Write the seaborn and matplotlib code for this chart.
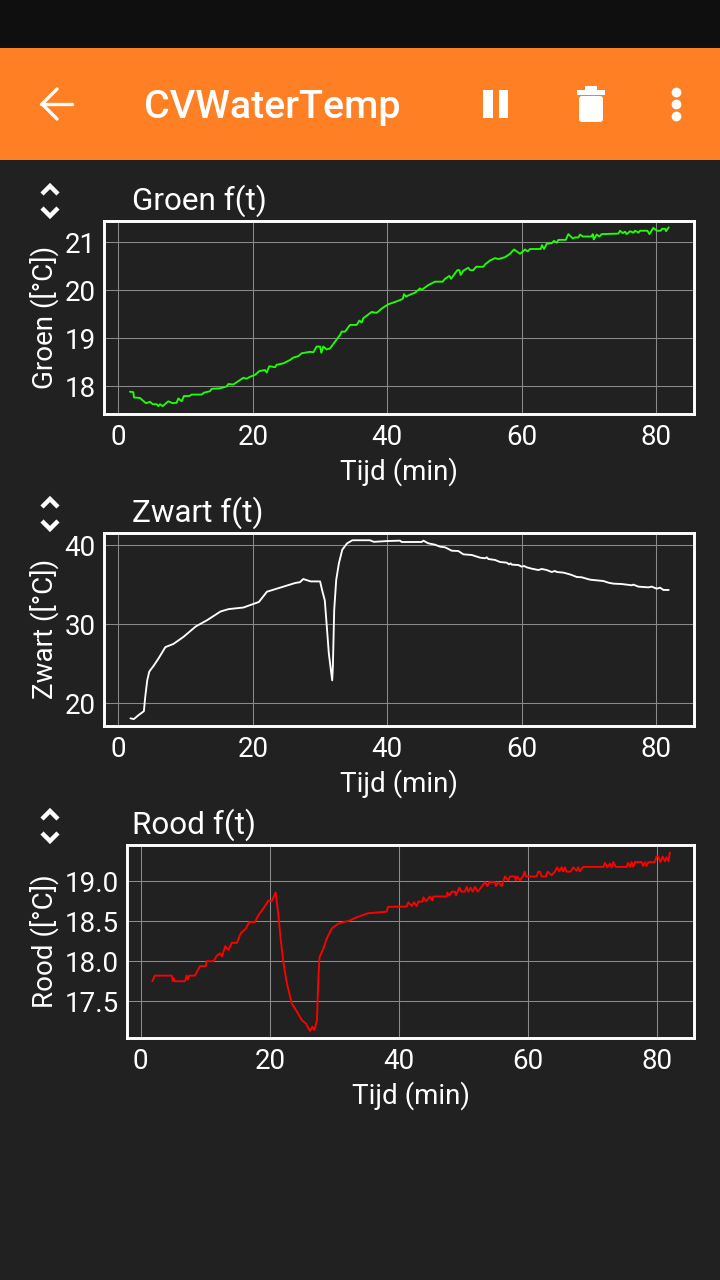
import matplotlib
matplotlib.use('Agg')
import matplotlib.pyplot as plt
import pandas as pd
import seaborn as sns
from matplotlib.lines import Line2D
from matplotlib.patches import FancyBboxPatch, Rectangle

APP_TITLE = 'CVWaterTemp'

groen_t = [1.73, 2.23, 2.33, 3.22, 4.11, 4.71, 5.11, 5.7, 5.95, 6.2, 6.59, 7.43, 8.08, 8.67, 8.92, 9.42, 9.76, 10.56, 10.9,
           12.39, 12.74, 13.63, 13.88, 15.12, 16.11, 16.36, 17.1, 17.84, 18.59, 19.08, 19.58, 20.32, 20.97, 21.81, 22.06,
           22.45, 23.3, 23.54, 24.54, 25.53, 26.02, 26.77, 27.26, 28.5, 29.0, 29.49, 29.99, 30.19, 30.48, 30.98, 31.47,
           32.22, 32.96, 33.21, 33.71, 34.45, 35.44, 35.84, 36.18, 36.43, 37.67, 38.41, 39.16, 40.15, 41.39, 42.28, 42.48,
           42.78, 43.38, 44.12, 44.86, 45.11, 46.1, 47.09, 48.23, 48.58, 49.23, 49.47, 50.42, 50.71, 50.91, 51.31, 52.05,
           52.3, 52.79, 53.19, 54.28, 54.53, 55.27, 56.02, 56.51, 57.5, 58.25, 58.84, 59.24, 59.73, 60.48, 60.87, 61.22,
           62.81, 63.0, 63.3, 63.7, 64.44, 64.79, 65.19, 65.43, 66.52, 66.92, 67.57, 67.91, 68.41, 68.66, 69.05, 70.39,
           70.54, 70.69, 71.13, 71.53, 71.88, 74.36, 74.6, 75.0, 75.35, 75.6, 76.09, 76.59, 76.83, 77.33, 77.58, 78.67,
           78.97, 79.56, 80.06, 80.65, 80.85, 81.29, 81.44, 81.84]
groen_v = [17.89, 17.88, 17.77, 17.76, 17.65, 17.68, 17.63, 17.63, 17.59, 17.63, 17.59, 17.69, 17.65, 17.66, 17.75, 17.69,
           17.8, 17.8, 17.83, 17.83, 17.87, 17.9, 17.95, 17.96, 18.0, 18.05, 18.04, 18.11, 18.18, 18.16, 18.2, 18.24, 18.32,
           18.34, 18.29, 18.42, 18.4, 18.45, 18.48, 18.55, 18.6, 18.63, 18.69, 18.72, 18.71, 18.83, 18.83, 18.7, 18.83, 18.77,
           18.79, 18.93, 19.07, 19.14, 19.14, 19.28, 19.28, 19.37, 19.33, 19.42, 19.55, 19.53, 19.62, 19.71, 19.77, 19.82,
           19.92, 19.87, 19.91, 19.95, 20.04, 20.01, 20.11, 20.18, 20.18, 20.24, 20.3, 20.24, 20.42, 20.42, 20.32, 20.41,
           20.47, 20.42, 20.42, 20.49, 20.49, 20.54, 20.62, 20.67, 20.65, 20.69, 20.76, 20.85, 20.81, 20.76, 20.85, 20.81,
           20.86, 20.86, 20.94, 20.86, 20.97, 20.98, 21.03, 20.99, 21.05, 21.05, 21.17, 21.08, 21.1, 21.1, 21.16, 21.12,
           21.12, 21.17, 21.06, 21.16, 21.12, 21.17, 21.18, 21.24, 21.19, 21.22, 21.17, 21.23, 21.2, 21.24, 21.2, 21.24,
           21.24, 21.17, 21.3, 21.24, 21.24, 21.28, 21.28, 21.23, 21.31]

zwart_t = [1.8, 2.3, 3, 3.8, 4, 4.3, 4.6, 5.3, 6, 7, 8.2, 9.7, 11.5, 13.2, 15.2, 16.4, 18.6, 20.9, 22.1, 24.4, 26.3, 27,
           27.5, 28.6, 30, 30.3, 30.7, 31, 31.3, 31.8, 31.9, 32.1, 32.4, 32.8, 33.3, 34, 34.8, 37.4, 38, 40, 41.89, 42.14,
           45.11, 45.36, 46.1, 47.09, 47.84, 48.58, 49.57, 50.56, 51.31, 52.55, 53.79, 54.53, 54.78, 55.02, 56.02, 56.76,
           57.75, 58.1, 58.35, 58.5, 59.49, 59.98, 60.33, 60.73, 61.47, 62.46, 62.96, 63.7, 64.44, 64.94, 65.19, 66.18,
           66.92, 67.42, 68.16, 68.9, 70.14, 72.13, 72.87, 73.61, 74.85, 76.34, 76.59, 77.33, 78.82, 79.31, 80.06, 80.55,
           81.05, 81.84]
zwart_v = [18.1, 18.0, 18.5, 19.0, 20.8, 22.9, 24.0, 24.8, 25.7, 27.1, 27.5, 28.4, 29.7, 30.5, 31.6, 31.9, 32.1, 32.8, 34.1,
           34.7, 35.2, 35.3, 35.7, 35.4, 35.4, 34.3, 33.0, 29.7, 26.3, 22.9, 24.6, 31.8, 35.6, 37.7, 39.4, 40.2, 40.6, 40.6,
           40.4, 40.5, 40.55, 40.38, 40.38, 40.55, 40.21, 40.04, 39.79, 39.71, 39.28, 39.24, 38.82, 38.74, 38.4, 38.32, 38.44,
           38.23, 38.11, 37.85, 37.77, 37.56, 37.68, 37.52, 37.47, 37.26, 37.35, 37.18, 37.01, 36.84, 36.97, 36.84, 36.59,
           36.72, 36.59, 36.51, 36.34, 36.21, 35.96, 35.92, 35.62, 35.45, 35.24, 35.12, 35.07, 34.91, 34.99, 34.74, 34.65,
           34.74, 34.48, 34.61, 34.32, 34.32]

rood_t = [1.8, 2.2, 4.8, 5, 5.1, 5.3, 6.9, 7.1, 7.3, 7.5, 8.4, 9.2, 10.1, 10.2, 11.3, 11.8, 12.3, 12.6, 13.1, 13.6, 14.1,
          14.9, 15.5, 16.3, 16.8, 17.7, 18.2, 19, 19.8, 20.3, 20.9, 21.3, 21.7, 22.1, 22.6, 23.4, 24.2, 25, 25.6, 26.2,
          26.6, 26.9, 27.3, 27.5, 27.7, 28.3, 28.8, 29.6, 30.6, 32.4, 33.5, 35.2, 38.1, 38.3, 40.2, 41.2, 41.46, 41.98,
          42.34, 42.75, 43.0, 43.68, 43.78, 44.2, 44.8, 45.18, 45.33, 47.39, 47.5, 47.8, 48.17, 48.68, 48.84, 49.35, 49.7,
          50.2, 50.49, 50.75, 51.1, 51.42, 51.78, 52.2, 52.8, 53.33, 53.69, 54.0, 54.87, 55.03, 55.39, 55.9, 56.42, 56.94,
          57.2, 57.97, 58.08, 58.33, 58.75, 59.26, 59.47, 59.67, 61.33, 61.58, 61.84, 62.1, 62.77, 63.03, 63.65, 64.16,
          64.52, 64.84, 65.2, 65.45, 65.71, 65.97, 66.59, 67.0, 67.52, 67.78, 68.03, 68.45, 68.65, 71.65, 71.9, 72.27,
          72.68, 72.94, 73.2, 73.6, 75.26, 75.5, 75.77, 76.03, 76.29, 76.55, 77.58, 77.84, 78.1, 78.35, 78.61, 79.64, 79.9,
          80.16, 80.52, 80.83, 81.19, 81.45, 81.76, 81.96]
rood_v = [17.75, 17.82, 17.82, 17.75, 17.79, 17.75, 17.75, 17.82, 17.77, 17.82, 17.82, 17.94, 17.94, 18.0, 18.0, 18.07, 18.1,
          18.06, 18.19, 18.14, 18.23, 18.23, 18.35, 18.41, 18.49, 18.49, 18.57, 18.66, 18.76, 18.75, 18.86, 18.6, 18.26,
          17.99, 17.74, 17.47, 17.37, 17.26, 17.22, 17.13, 17.18, 17.14, 17.26, 17.76, 18.05, 18.16, 18.28, 18.41, 18.47,
          18.51, 18.55, 18.6, 18.62, 18.68, 18.683, 18.683, 18.737, 18.69, 18.737, 18.69, 18.746, 18.746, 18.8, 18.75, 18.81,
          18.76, 18.81, 18.81, 18.86, 18.82, 18.87, 18.87, 18.825, 18.92, 18.87, 18.87, 18.93, 18.87, 18.92, 18.87, 18.93,
          18.87, 18.93, 18.99, 18.94, 18.99, 18.99, 18.94, 18.99, 18.94, 19.06, 19.01, 19.06, 19.06, 19.01, 19.06, 19.01,
          19.07, 19.12, 19.06, 19.06, 19.12, 19.12, 19.06, 19.06, 19.12, 19.075, 19.12, 19.175, 19.125, 19.175, 19.125,
          19.175, 19.12, 19.12, 19.175, 19.13, 19.175, 19.125, 19.175, 19.18, 19.18, 19.23, 19.175, 19.22, 19.175, 19.24,
          19.18, 19.18, 19.23, 19.18, 19.24, 19.18, 19.24, 19.24, 19.19, 19.24, 19.19, 19.24, 19.24, 19.31, 19.31, 19.24,
          19.31, 19.25, 19.3, 19.25, 19.36]

groen_yticks = [18, 19, 20, 21]
zwart_yticks = [20, 30, 40]
rood_yticks = [17.5, 18.0, 18.5, 19.0]
x_ticks = [0, 20, 40, 60, 80]

BG = '#212121'
W, H = 720, 1280


def add_panel(fig, box, t, v, name, color, yticks, ylim, xlim):
    left, top, right, bottom = box
    ax = fig.add_axes([left / W, 1 - bottom / H, (right - left) / W, (bottom - top) / H])
    df = pd.DataFrame({'t': t, 'v': v})
    sns.lineplot(data=df, x='t', y='v', ax=ax, color=color, lw=1.35, estimator=None, sort=False)
    ax.set_facecolor(BG)
    ax.set_xlim(*xlim)
    ax.set_ylim(*ylim)
    ax.set_xticks(x_ticks)
    ax.set_yticks(yticks)
    ax.grid(True, color='#8a8a8a', lw=0.75)
    ax.set_axisbelow(True)
    ax.tick_params(length=0, pad=6, labelsize=20, colors='white')
    ax.tick_params(axis='x', pad=7.5)
    for s in ax.spines.values():
        s.set_color('white')
        s.set_linewidth(2.1)
    ax.set_xlabel('Tijd (min)', color='white', fontsize=20, labelpad=4)
    ax.set_ylabel('', color='white')
    y_mid = (top + bottom) / 2
    fig.text(44 / W, 1 - y_mid / H, f'{name} ([°C])', color='white', fontsize=20,
             rotation=90, ha='center', va='center')
    fig.text(132.5 / W, 1 - (top - 19.5) / H, f'{name} f(t)', color='white', fontsize=22.7,
             ha='left', va='center')
    return ax


def chevrons(chrome, cy):
    for y0, d in [(cy - 9, -1), (cy + 13, 1)]:
        chrome.add_line(Line2D([42, 50, 58], [y0 - d * 4, y0 + d * 4, y0 - d * 4], color='white', lw=3.2,
                               solid_capstyle='butt', solid_joinstyle='miter'))


sns.set_theme(style='dark')
plt.rcParams['font.family'] = ['Roboto', 'DejaVu Sans']

fig = plt.figure(figsize=(7.2, 12.8), dpi=100, facecolor=BG)

# screen chrome in pixel coordinates
chrome = fig.add_axes([0, 0, 1, 1])
chrome.set_xlim(0, W)
chrome.set_ylim(H, 0)
chrome.axis('off')
chrome.add_patch(Rectangle((0, 0), W, 48, color='#0f0f0f', lw=0))
chrome.add_patch(Rectangle((0, 48), W, 112, color='#ff7f24', lw=0))
chrome.text(272, 108, APP_TITLE, color='white', fontsize=28.4, fontweight='medium', ha='center', va='center')

# back arrow
chrome.add_line(Line2D([41, 72], [104, 104], color='white', lw=2.4))
chrome.add_line(Line2D([57, 42, 57], [89, 104, 119], color='white', lw=2.4, solid_joinstyle='miter'))
# pause
chrome.add_patch(Rectangle((483, 90), 9.5, 28, color='white', lw=0))
chrome.add_patch(Rectangle((498.5, 90), 9.5, 28, color='white', lw=0))
# bin
chrome.add_patch(Rectangle((577, 90), 28, 4.5, color='white', lw=0))
chrome.add_patch(Rectangle((585, 86), 12, 5, color='white', lw=0))
chrome.add_patch(FancyBboxPatch((579, 96), 24, 26, boxstyle='round,pad=0,rounding_size=3', color='white', lw=0))
# overflow dots
for cy in [92, 104, 116]:
    chrome.plot([676], [cy], 'o', color='white', ms=7, mew=0)

chevrons(chrome, 199)
chevrons(chrome, 512)
chevrons(chrome, 824)

add_panel(fig, (104, 220.5, 694, 414), groen_t, groen_v, 'Groen', '#1eff00', groen_yticks, (17.426, 21.453),
          (-2.13, 85.6))
add_panel(fig, (104, 532.5, 694, 726), zwart_t, zwart_v, 'Zwart', 'white', zwart_yticks, (17.13, 41.58),
          (-2.13, 85.6))
add_panel(fig, (127, 844.5, 694, 1038), rood_t, rood_v, 'Rood', '#ff0000', rood_yticks, (17.04, 19.46),
          (-2.12, 85.7))

fig.savefig('out.png', dpi=100, facecolor=BG)
